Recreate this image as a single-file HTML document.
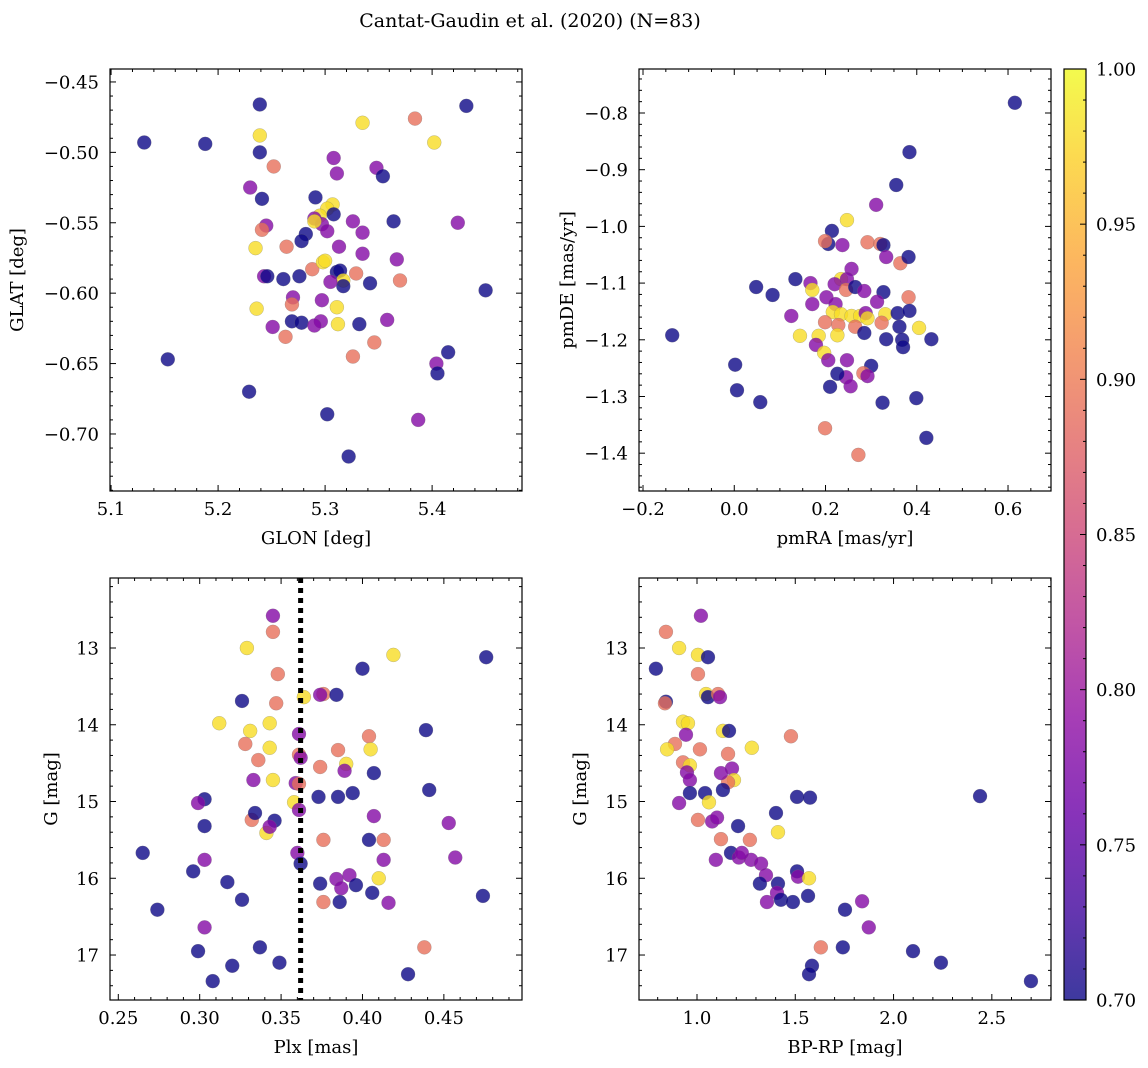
<!DOCTYPE html>
<html><head><meta charset="utf-8">
<style>
html,body{margin:0;padding:0;background:#fff;}
svg{display:block;font-family:"DejaVu Serif","Liberation Serif",serif;}
</style></head>
<body>
<svg id="fig" width="1148" height="1068" viewBox="0 0 1148 1068" xmlns="http://www.w3.org/2000/svg">
<defs>
<linearGradient id="plasma" x1="0" y1="1" x2="0" y2="0">
<stop offset="0" stop-color="#0d0887"/><stop offset="0.1" stop-color="#41049d"/><stop offset="0.2" stop-color="#6a00a8"/><stop offset="0.3" stop-color="#8f0da4"/><stop offset="0.4" stop-color="#b12a90"/><stop offset="0.5" stop-color="#cc4778"/><stop offset="0.6" stop-color="#e16462"/><stop offset="0.7" stop-color="#f2844b"/><stop offset="0.8" stop-color="#fca636"/><stop offset="0.9" stop-color="#fcce25"/><stop offset="1" stop-color="#f0f921"/>
</linearGradient>
</defs>
<text x="530" y="27" font-size="19" text-anchor="middle">Cantat-Gaudin et al. (2020) (N=83)</text>
</svg>
<script>
// Panel 1: GLON vs GLAT
const p1x=[5.131,5.239,5.188,5.239,5.241,5.432,5.239,5.252,5.230,5.245,5.235,5.241,5.335,5.384,5.402,5.308,5.311,5.348,5.354,5.291,5.307,5.302,5.308,5.295,5.290,5.297,5.290,5.282,5.302,5.326,5.335,5.364,5.424,5.264,5.278,5.313,5.335,5.367,5.243,5.246,5.261,5.276,5.288,5.298,5.300,5.311,5.314,5.317,5.317,5.329,5.305,5.342,5.370,5.236,5.270,5.269,5.297,5.311,5.251,5.269,5.278,5.263,5.296,5.290,5.312,5.332,5.358,5.326,5.346,5.153,5.415,5.404,5.405,5.450,5.229,5.302,5.387,5.322];
const p1y=[-0.493,-0.466,-0.494,-0.500,-0.533,-0.467,-0.488,-0.510,-0.525,-0.552,-0.568,-0.555,-0.479,-0.476,-0.493,-0.504,-0.515,-0.511,-0.517,-0.532,-0.537,-0.540,-0.544,-0.545,-0.547,-0.551,-0.549,-0.558,-0.556,-0.549,-0.557,-0.549,-0.550,-0.567,-0.563,-0.567,-0.572,-0.576,-0.588,-0.588,-0.590,-0.588,-0.583,-0.578,-0.577,-0.585,-0.584,-0.591,-0.595,-0.586,-0.592,-0.593,-0.591,-0.611,-0.603,-0.608,-0.605,-0.610,-0.624,-0.620,-0.621,-0.631,-0.620,-0.623,-0.622,-0.622,-0.619,-0.645,-0.635,-0.647,-0.642,-0.650,-0.657,-0.598,-0.670,-0.686,-0.690,-0.716];
const p1c=[0.70,0.70,0.70,0.70,0.70,0.70,0.98,0.89,0.78,0.78,0.98,0.89,0.98,0.89,0.98,0.78,0.78,0.78,0.70,0.70,0.98,0.98,0.70,0.98,0.78,0.78,0.98,0.70,0.78,0.78,0.78,0.70,0.78,0.89,0.70,0.78,0.78,0.78,0.78,0.70,0.70,0.70,0.89,0.98,0.98,0.70,0.70,0.98,0.70,0.89,0.78,0.70,0.89,0.98,0.78,0.89,0.78,0.98,0.78,0.70,0.70,0.89,0.78,0.78,0.98,0.70,0.78,0.89,0.89,0.70,0.70,0.78,0.70,0.70,0.70,0.70,0.78,0.70];
// Panel 2: pmRA vs pmDE
const p2x=[0.615,0.384,0.355,0.311,0.247,0.214,0.206,0.199,0.237,0.292,0.320,0.327,0.257,0.333,0.364,0.382,0.234,0.247,0.134,0.167,0.048,0.084,0.171,0.202,0.220,0.245,0.265,0.285,0.327,0.313,0.382,0.171,0.222,0.216,0.234,0.257,0.276,0.288,0.292,0.331,0.358,0.384,0.125,0.199,0.228,0.265,0.323,0.362,0.405,0.144,0.185,0.226,0.285,0.333,0.368,0.432,0.370,0.179,0.197,0.206,0.247,0.300,0.245,0.283,0.292,0.226,-0.136,0.002,0.006,0.057,0.210,0.255,0.399,0.325,0.199,0.421,0.272];
const p2y=[-0.782,-0.869,-0.927,-0.962,-0.989,-1.008,-1.031,-1.026,-1.033,-1.028,-1.031,-1.033,-1.075,-1.054,-1.065,-1.054,-1.093,-1.093,-1.093,-1.100,-1.107,-1.121,-1.112,-1.125,-1.102,-1.112,-1.107,-1.114,-1.116,-1.133,-1.125,-1.137,-1.137,-1.151,-1.155,-1.158,-1.158,-1.153,-1.162,-1.155,-1.153,-1.149,-1.158,-1.169,-1.174,-1.177,-1.170,-1.177,-1.179,-1.193,-1.193,-1.192,-1.188,-1.199,-1.200,-1.199,-1.213,-1.209,-1.223,-1.236,-1.236,-1.246,-1.266,-1.259,-1.264,-1.260,-1.192,-1.244,-1.289,-1.310,-1.283,-1.282,-1.303,-1.311,-1.356,-1.373,-1.403];
const p2c=[0.70,0.70,0.70,0.78,0.98,0.70,0.70,0.89,0.78,0.89,0.89,0.70,0.78,0.78,0.89,0.70,0.98,0.78,0.70,0.78,0.70,0.70,0.98,0.78,0.78,0.89,0.70,0.78,0.70,0.78,0.89,0.78,0.78,0.98,0.98,0.98,0.98,0.78,0.98,0.98,0.70,0.70,0.78,0.89,0.89,0.89,0.89,0.70,0.98,0.98,0.98,0.98,0.70,0.70,0.70,0.70,0.70,0.78,0.98,0.78,0.78,0.70,0.78,0.89,0.78,0.70,0.70,0.70,0.70,0.70,0.70,0.78,0.70,0.70,0.89,0.70,0.89];
// Panel 3: Plx vs G
const p3x=[0.345,0.345,0.329,0.419,0.476,0.400,0.348,0.364,0.376,0.374,0.384,0.347,0.326,0.312,0.343,0.331,0.361,0.404,0.439,0.328,0.343,0.385,0.405,0.361,0.362,0.336,0.390,0.374,0.333,0.345,0.389,0.407,0.359,0.361,0.373,0.385,0.394,0.441,0.303,0.299,0.358,0.346,0.332,0.334,0.407,0.453,0.361,0.303,0.341,0.343,0.376,0.413,0.404,0.360,0.362,0.413,0.457,0.265,0.303,0.410,0.296,0.392,0.384,0.387,0.374,0.396,0.317,0.406,0.416,0.386,0.376,0.326,0.274,0.474,0.303,0.438,0.337,0.299,0.349,0.320,0.428,0.308];
const p3y=[12.58,12.79,13.00,13.09,13.12,13.27,13.34,13.64,13.60,13.61,13.61,13.72,13.69,13.98,13.98,14.08,14.12,14.15,14.07,14.25,14.30,14.33,14.32,14.39,14.43,14.46,14.51,14.55,14.72,14.72,14.60,14.63,14.76,14.77,14.94,14.94,14.89,14.85,14.97,15.02,15.01,15.25,15.24,15.15,15.19,15.28,15.11,15.32,15.41,15.33,15.50,15.50,15.50,15.67,15.81,15.76,15.73,15.67,15.76,16.00,15.91,15.96,16.01,16.13,16.07,16.09,16.05,16.19,16.32,16.31,16.31,16.28,16.41,16.23,16.64,16.90,16.90,16.95,17.10,17.14,17.25,17.34];
const p3c=[0.78,0.89,0.98,0.98,0.70,0.70,0.89,0.98,0.89,0.78,0.70,0.89,0.70,0.98,0.98,0.98,0.78,0.89,0.70,0.89,0.98,0.89,0.98,0.89,0.78,0.89,0.98,0.89,0.78,0.98,0.78,0.70,0.78,0.89,0.70,0.70,0.70,0.70,0.70,0.78,0.98,0.70,0.89,0.70,0.78,0.78,0.78,0.70,0.98,0.78,0.89,0.89,0.70,0.78,0.70,0.78,0.78,0.70,0.78,0.98,0.70,0.78,0.78,0.78,0.70,0.70,0.70,0.70,0.78,0.70,0.89,0.70,0.70,0.70,0.78,0.89,0.70,0.70,0.70,0.70,0.70,0.70];
const plxLine=0.362;
// Panel 4: BP-RP vs G
const p4x=[1.020,0.842,0.909,1.005,1.056,0.791,1.005,1.046,1.056,1.107,1.117,0.842,0.837,0.929,0.954,1.132,1.163,1.279,1.478,0.944,1.015,0.888,0.848,0.929,0.964,1.158,0.949,0.964,1.178,1.188,1.158,1.122,0.964,1.041,1.132,0.909,1.061,1.402,1.509,1.575,2.440,1.005,1.077,1.102,1.209,1.122,1.269,1.412,1.173,1.096,1.213,1.275,1.326,1.228,1.509,1.514,1.570,1.351,1.320,1.412,1.407,1.427,1.565,1.488,1.356,1.753,1.840,1.874,1.630,1.742,2.099,2.241,1.585,1.570,2.699];
const p4y=[12.58,12.79,13.00,13.09,13.12,13.27,13.34,13.60,13.64,13.60,13.64,13.70,13.72,13.96,13.98,14.08,14.08,14.30,14.15,14.13,14.32,14.25,14.32,14.49,14.53,14.38,14.62,14.72,14.57,14.72,14.75,14.63,14.89,14.89,14.85,15.02,15.01,15.15,14.94,14.95,14.93,15.24,15.26,15.21,15.32,15.49,15.50,15.40,15.67,15.76,15.73,15.76,15.81,15.67,15.91,15.98,16.00,15.96,16.07,16.07,16.19,16.28,16.23,16.31,16.31,16.41,16.30,16.64,16.90,16.90,16.95,17.10,17.14,17.25,17.34];
const p4c=[0.78,0.89,0.98,0.98,0.70,0.70,0.89,0.98,0.70,0.89,0.78,0.70,0.89,0.98,0.98,0.98,0.70,0.98,0.89,0.78,0.89,0.89,0.98,0.89,0.98,0.89,0.78,0.78,0.78,0.98,0.89,0.78,0.70,0.70,0.70,0.78,0.98,0.70,0.70,0.70,0.70,0.89,0.78,0.78,0.70,0.89,0.89,0.98,0.70,0.78,0.78,0.78,0.78,0.78,0.70,0.78,0.98,0.78,0.70,0.70,0.78,0.70,0.70,0.70,0.78,0.70,0.78,0.78,0.89,0.70,0.70,0.70,0.70,0.70,0.70];
const cbTicks=[0.70,0.75,0.80,0.85,0.90,0.95,1.00];

const NS='http://www.w3.org/2000/svg';
const svg=document.getElementById('fig');
const stops=[[0,[13,8,135]],[0.1,[65,4,157]],[0.2,[106,0,168]],[0.3,[143,13,164]],[0.4,[177,42,144]],[0.5,[204,71,120]],[0.6,[225,100,98]],[0.7,[242,132,75]],[0.8,[252,166,54]],[0.9,[252,206,37]],[1,[240,249,33]]];
function plasma(t){t=Math.max(0,Math.min(1,t));for(let i=1;i<stops.length;i++){if(t<=stops[i][0]){const a=stops[i-1],b=stops[i];const f=(t-a[0])/(b[0]-a[0]);const c=a[1].map((v,k)=>Math.round(v+(b[1][k]-v)*f));return 'rgb('+c.join(',')+')';}}return 'rgb(240,249,33)';}
function mk(tag,attrs,parent){const e=document.createElementNS(NS,tag);for(const k in attrs)e.setAttribute(k,attrs[k]);(parent||svg).appendChild(e);return e;}
function fmt(v,d){return (v<0?'\u2212':'')+Math.abs(v).toFixed(d);}
const FS=18;

function panel(o){
  const g=mk('g',{});
  
  
  const sx=v=>o.L+(v-o.x0)/(o.x1-o.x0)*(o.R-o.L);
  const sy=v=>o.T+(v-o.y0)/(o.y1-o.y0)*(o.B-o.T);
  for(let i=0;i<o.xs.length;i++){
    const c=mk('circle',{cx:sx(o.xs[i]),cy:sy(o.ys[i]),r:7,fill:plasma((o.cs[i]-0.7)/0.3),'fill-opacity':0.8,stroke:'#777','stroke-width':0.4,'stroke-opacity':0.6},g);
    
    
  }
  if(o.vline!==undefined){
    const l=mk('line',{x1:sx(o.vline),x2:sx(o.vline),y1:o.T,y2:o.B,stroke:'#000','stroke-width':5,'stroke-dasharray':'5,5'},g);
    
    
  }
  const f=mk('rect',{x:o.L,y:o.T,width:o.R-o.L,height:o.B-o.T,fill:'none',stroke:'#000','stroke-width':1.2},g);
  
  
  const xs0=Math.ceil(o.x0/o.xmin-1e-6),xs1=Math.floor(o.x1/o.xmin+1e-6);
  for(let k=xs0;k<=xs1;k++){const v=k*o.xmin;const major=Math.abs(v/o.xmaj-Math.round(v/o.xmaj))<1e-6;const len=major?6:3;const X=sx(v);
    mk('line',{x1:X,x2:X,y1:o.B,y2:o.B-len,stroke:'#000','stroke-width':1},g);
    mk('line',{x1:X,x2:X,y1:o.T,y2:o.T+len,stroke:'#000','stroke-width':1},g);
    if(major){const t=mk('text',{x:X,y:o.B+24,'font-size':FS,'text-anchor':'middle'},g);t.textContent=fmt(v,o.xd);
      }}
  const ys0=Math.ceil(Math.min(o.y0,o.y1)/o.ymin-1e-6),ys1=Math.floor(Math.max(o.y0,o.y1)/o.ymin+1e-6);
  for(let k=ys0;k<=ys1;k++){const v=k*o.ymin;const major=Math.abs(v/o.ymaj-Math.round(v/o.ymaj))<1e-6;const len=major?6:3;const Y=sy(v);
    mk('line',{x1:o.L,x2:o.L+len,y1:Y,y2:Y,stroke:'#000','stroke-width':1},g);
    mk('line',{x1:o.R,x2:o.R-len,y1:Y,y2:Y,stroke:'#000','stroke-width':1},g);
    if(major){const t=mk('text',{x:o.L-11,y:Y+6.5,'font-size':FS,'text-anchor':'end'},g);t.textContent=fmt(v,o.yd);
      }}
  const xl=mk('text',{x:(o.L+o.R)/2,y:o.B+53,'font-size':FS,'text-anchor':'middle'},g);xl.textContent=o.xlab;
  
  const yx=o.L-o.ylo,yy=(o.T+o.B)/2;
  const yl=mk('text',{x:yx,y:yy,'font-size':FS,'text-anchor':'middle',transform:'rotate(-90 '+yx+' '+yy+')'},g);yl.textContent=o.ylab;
  
}
panel({name:'glon-glat-panel',L:110,R:522,T:69,B:491,x0:5.099,x1:5.484,y0:-0.4408,y1:-0.7405,xs:p1x,ys:p1y,cs:p1c,xmaj:0.1,xmin:0.02,ymaj:0.05,ymin:0.01,xd:1,yd:2,xlab:'GLON [deg]',ylab:'GLAT [deg]',ylo:87});
panel({name:'proper-motion-panel',L:639,R:1051,T:69,B:491,x0:-0.2088,x1:0.6942,y0:-0.7224,y1:-1.4667,xs:p2x,ys:p2y,cs:p2c,xmaj:0.2,xmin:0.05,ymaj:0.1,ymin:0.02,xd:1,yd:1,xlab:'pmRA [mas/yr]',ylab:'pmDE [mas/yr]',ylo:66});
panel({name:'parallax-mag-panel',L:110,R:522,T:578,B:1000,x0:0.2449,x1:0.498,y0:12.088,y1:17.586,xs:p3x,ys:p3y,cs:p3c,xmaj:0.05,xmin:0.01,ymaj:1,ymin:0.2,xd:2,yd:0,xlab:'Plx [mas]',ylab:'G [mag]',ylo:53,vline:plxLine});
panel({name:'cmd-panel',L:639,R:1051,T:578,B:1000,x0:0.705,x1:2.801,y0:12.088,y1:17.586,xs:p4x,ys:p4y,cs:p4c,xmaj:0.5,xmin:0.1,ymaj:1,ymin:0.2,xd:1,yd:0,xlab:'BP-RP [mag]',ylab:'G [mag]',ylo:53});

const cb=mk('g',{});


const CT=69,CB=1000,CL=1064,CR=1086;
mk('rect',{x:CL,y:CT,width:CR-CL,height:CB-CT,fill:'url(#plasma)','fill-opacity':0.8},cb);
mk('rect',{x:CL,y:CT,width:CR-CL,height:CB-CT,fill:'none',stroke:'#000','stroke-width':1.2},cb);
const cy=v=>CB-(v-0.7)/0.3*(CB-CT);
for(let k=70;k<=100;k++){const v=k/100;const Y=cy(v);const major=k%5===0;
  mk('line',{x1:CR,x2:CR-(major?6:3),y1:Y,y2:Y,stroke:'#000','stroke-width':1},cb);}
cbTicks.forEach(v=>{const t=mk('text',{x:CR+10,y:cy(v)+6.5,'font-size':FS},cb);t.textContent=v.toFixed(2);
  
  });
</script>
</body></html>
